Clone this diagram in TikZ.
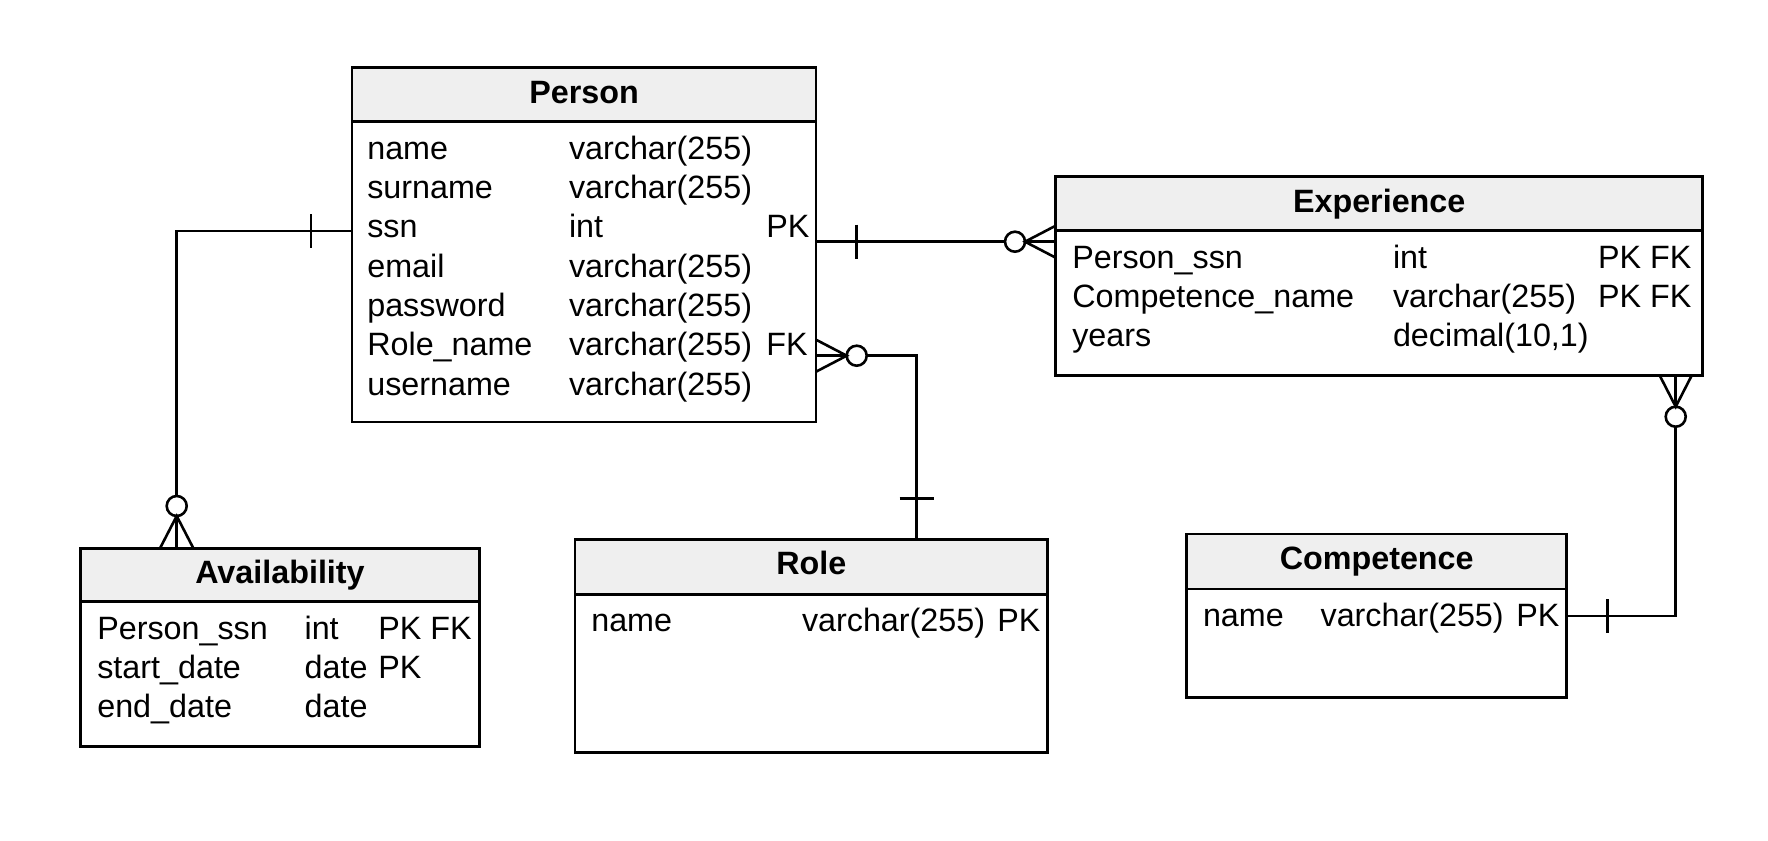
\documentclass[tikz,border=0pt]{standalone}
\usepackage{fontspec}
\setmainfont{Liberation Sans}
\usetikzlibrary{fit,calc}
\definecolor{hdrgray}{HTML}{EFEFEF}
\newcommand\ertable[7]{%
  \node[tbl, fit={(#2,#3) (#4,#5)}] (#1) {};
  \node[hdr, fit={(#2,#3) (#4,#6)}] (#1h) {};
  \node[ttl] (#1t) at ({(#2+#4)/2},{#3+35.5}) {#7};
}
\begin{document}
\begin{tikzpicture}[x=1pt,y=-1pt,line width=2.6pt,
  tbl/.style={draw=black, fill=white, inner sep=0pt, outer sep=0pt},
  hdr/.style={draw=black, fill=hdrgray, inner sep=0pt, outer sep=0pt},
  ttl/.style={anchor=base, inner sep=0pt, font=\fontsize{32.3}{38}\selectfont\bfseries},
  txt/.style={anchor=base west, inner sep=0pt, font=\fontsize{32.3}{38}\selectfont},
  zero/.style={circle, draw=black, fill=white, minimum size=20pt, inner sep=0pt, outer sep=0pt},
  rel/.style={draw=black, line width=2.6pt}]
\useasboundingbox (0,0) rectangle (1768,840);
\fill[white] (0,0) rectangle (1768,840);

% tables
\ertable{person}{352}{67.5}{816}{422}{121.7}{Person}
\ertable{experience}{1055.7}{176.7}{1702.7}{375.5}{230.7}{Experience}
\ertable{avail}{80.7}{548.3}{479.3}{746.7}{601.7}{Availability}
\ertable{role}{575}{539.3}{1047.7}{752.7}{594.3}{Role}
\ertable{competence}{1186.7}{534}{1566.7}{697.3}{589}{Competence}

% Person rows
\node[txt] (p1a) at (366,159.2) {name};
\node[txt] (p1b) at (567.7,159.2) {varchar(255)};
\node[txt] (p2a) at (366,198.5) {surname};
\node[txt] (p2b) at (567.7,198.5) {varchar(255)};
\node[txt] (p3a) at (366,237.8) {ssn};
\node[txt] (p3b) at (567.7,237.8) {int};
\node[txt] (p3c) at (765,237.8) {PK};
\node[txt] (p4a) at (366,277.1) {email};
\node[txt] (p4b) at (567.7,277.1) {varchar(255)};
\node[txt] (p5a) at (366,316.4) {password};
\node[txt] (p5b) at (567.7,316.4) {varchar(255)};
\node[txt] (p6a) at (366,355.7) {Role\_name};
\node[txt] (p6b) at (567.7,355.7) {varchar(255)};
\node[txt] (p6c) at (765,355.7) {FK};
\node[txt] (p7a) at (366,395) {username};
\node[txt] (p7b) at (567.7,395) {varchar(255)};

% Experience rows
\node[txt] (e1a) at (1071,268.2) {Person\_ssn};
\node[txt] (e1b) at (1391.7,268.2) {int};
\node[txt] (e1c) at (1596.7,268.2) {PK FK};
\node[txt] (e2a) at (1071,307.5) {Competence\_name};
\node[txt] (e2b) at (1391.7,307.5) {varchar(255)};
\node[txt] (e2c) at (1596.7,307.5) {PK FK};
\node[txt] (e3a) at (1071,346.8) {years};
\node[txt] (e3b) at (1391.7,346.8) {decimal(10,1)};

% Availability rows
\node[txt] (a1a) at (96,639.2) {Person\_ssn};
\node[txt] (a1b) at (303.3,639.2) {int};
\node[txt] (a1c) at (377,639.2) {PK FK};
\node[txt] (a2a) at (96,678.5) {start\_date};
\node[txt] (a2b) at (303.3,678.5) {date};
\node[txt] (a2c) at (377,678.5) {PK};
\node[txt] (a3a) at (96,717.8) {end\_date};
\node[txt] (a3b) at (303.3,717.8) {date};

% Role rows
\node[txt] (r1a) at (590,631.8) {name};
\node[txt] (r1b) at (800.7,631.8) {varchar(255)};
\node[txt] (r1c) at (996,631.8) {PK};

% Competence rows
\node[txt] (c1a) at (1201.7,626.5) {name};
\node[txt] (c1b) at (1319.3,626.5) {varchar(255)};
\node[txt] (c1c) at (1515,626.5) {PK};

% relationship helpers
\coordinate (cA) at (176.7,231);
\coordinate (cR) at (916.7,355.7);
\coordinate (cC) at (1675.7,616);
\node[zero] (zA) at (176.7,506) {};
\node[zero] (zE) at (1015,241.7) {};
\node[zero] (zR) at (856.7,355.7) {};
\node[zero] (zC) at (1675.7,416.7) {};

% Person -- Availability
\draw[rel] (person.west |- cA) -- (cA) -- (zA.north);
\draw[rel] ($(person.west |- cA)+(-41,0)$) ++(0,-17) -- ++(0,34);
\draw[rel] (zA.south) -- (avail.north -| zA);
\draw[rel] ($(avail.north -| zA)+(-16.7,0)$) -- (zA.south) -- ($(avail.north -| zA)+(16.7,0)$);

% Person -- Experience
\draw[rel] (person.east |- zE) -- (zE.west);
\draw[rel] ($(person.east |- zE)+(40.7,0)$) ++(0,-17) -- ++(0,34);
\draw[rel] (zE.east) -- (experience.west |- zE);
\draw[rel] ($(experience.west |- zE)+(0,-16)$) -- (zE.east) -- ($(experience.west |- zE)+(0,16)$);

% Person -- Role
\draw[rel] (person.east |- zR) -- (zR.west);
\draw[rel] ($(person.east |- zR)+(0,-16)$) -- (zR.west) -- ($(person.east |- zR)+(0,16)$);
\draw[rel] (zR.east) -- (cR) -- (role.north -| cR);
\draw[rel] ($(role.north -| cR)+(0,-41)$) ++(-17,0) -- ++(34,0);

% Experience -- Competence
\draw[rel] (experience.south -| zC) -- (zC.north);
\draw[rel] ($(experience.south -| zC)+(-16,0)$) -- (zC.north) -- ($(experience.south -| zC)+(16,0)$);
\draw[rel] (zC.south) -- (cC) -- (competence.east |- cC);
\draw[rel] ($(competence.east |- cC)+(40.6,0)$) ++(0,-17) -- ++(0,34);
\end{tikzpicture}
\end{document}
